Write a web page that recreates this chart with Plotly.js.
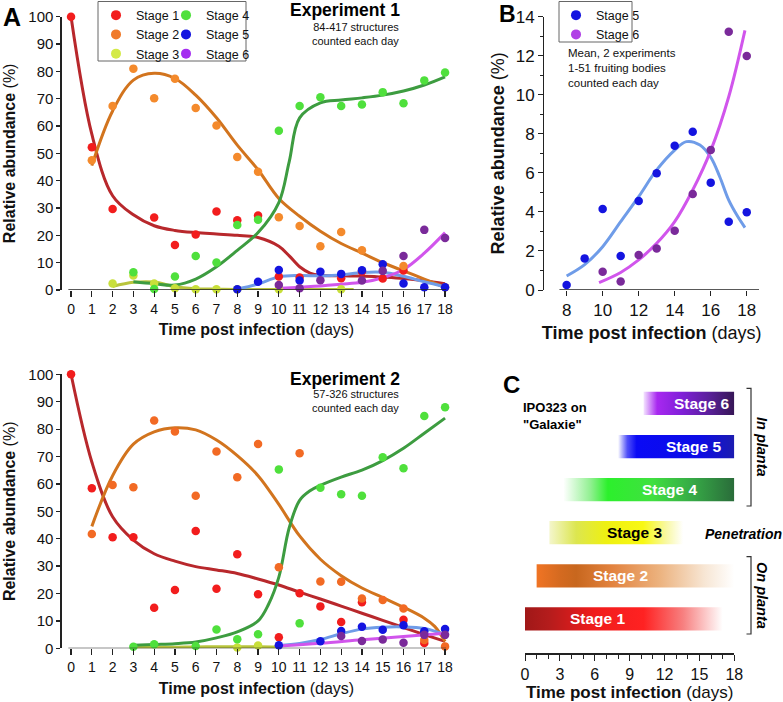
<!DOCTYPE html>
<html><head><meta charset="utf-8">
<script src="https://cdn.plot.ly/plotly-3.0.1.min.js"></script>
<style>html,body{margin:0;padding:0;background:#fff}#chart{width:783px;height:702px}</style>
</head><body><div id="chart"></div>
<script>
// ---------- DATA ----------
const days = [0,1,2,3,4,5,6,7,8,9,10,11,12,13,14,15,16,17,18];
const stageNames = ['Stage 1','Stage 2','Stage 3','Stage 4','Stage 5','Stage 6'];

// Experiment 1 observed values (%)
const e1S1 = [100,52.2,29.6,null,26.5,16.5,20.3,28.7,25.5,27.3,4.9,4.6,null,4.3,6.8,4.2,7.1,null,null];
const e1S2 = [null,47.5,67.3,81.0,70.2,77.3,66.6,60.2,48.7,43.3,26.6,23.4,16.0,21.2,14.5,null,8.8,null,1.0];
const e1S3 = [null,null,2.4,5.3,2.4,0.6,0.3,0.3,0.3,null,0.3,null,null,0.3,null,null,null,null,null];
const e1S4 = [null,null,null,6.5,0.4,4.9,12.4,10.1,23.8,25.7,58.3,67.3,70.5,67.3,67.9,72.4,68.3,76.7,79.6];
const e1S5 = [null,null,null,null,null,null,null,null,0.3,3.0,7.3,3.5,6.7,5.9,7.2,9.4,2.4,1.0,1.0];
const e1S6 = [null,null,null,null,null,null,null,null,null,null,1.8,0.6,3.6,null,3.5,7.0,12.4,22.0,19.0];

// Experiment 1 fitted curves
const f1S1x = [0,1,2,3,4,5,6,7,8,9,10,10.5,11,11.5,12,13,14,15,16,17,18];
const f1S1y = [100,57,34.5,27.5,23.5,21.8,21,20.5,20,19.2,16,12.5,8.5,6.2,5.4,5.2,5.1,4.7,4.2,3.4,2.3];
const f1S2x = [1,2,3,4,5,6,7,8,9,10,11,12,13,14,15,16,17,18];
const f1S2y = [45.5,65.5,76.8,79.3,77.4,71.3,63,53,44,33.5,27,21.5,17,13.5,10,7,4,1];
const f1S3x = [2,3,4,5,6,7,8,10,12,13.6];
const f1S3y = [1.3,2.8,2.9,1.2,0.5,0.3,0.2,0.2,0.2,0.2];
const f1S4x = [3,4,5,6,7,8,9,10,10.5,11,12,13,14,15,16,17,18];
const f1S4y = [3,2.3,1.8,4,8.5,14.5,21,32,47,63,68.5,69.5,70.3,71.3,72.8,75,78];
const f1S5x = [8,9,10,11,12,13,14,15,16,17,18];
const f1S5y = [0.3,2.2,4.8,5.3,5.2,5.5,6.4,6.5,5,3,1.2];
const f1S6x = [10,11,12,13,14,15,16,17,18];
const f1S6y = [0.6,1.0,1.5,2.1,2.8,4.5,7.5,13.5,21];

// Experiment 2 observed values (%)
const e2S1 = [100,58.4,40.5,40.5,14.8,21.3,42.8,21.7,34.3,19.7,4.0,20.1,15.3,9.6,16.8,null,10.4,1.9,null];
const e2S2 = [null,41.7,59.6,58.8,83.1,79.1,55.7,71.8,62.4,74.6,29.6,71.2,24.4,24.3,18.2,17.6,14.5,3.0,0.7];
const e2S3 = [null,null,null,null,null,null,null,null,0.3,1.0,null,null,null,null,null,null,null,null,null];
const e2S4 = [null,null,null,0.6,1.5,null,0.8,6.9,3.3,5.1,65.3,9.1,58.6,56.2,55.7,69.7,65.7,84.8,88.0];
const e2S5 = [null,null,null,null,null,null,null,null,null,null,1.1,null,2.6,6.3,7.9,6.8,8.4,6.2,7.0];
const e2S6 = [null,null,null,null,null,null,null,null,null,null,null,null,null,4.5,2.7,3.2,2.0,4.9,4.9];

// Experiment 2 fitted curves
const f2S1x = [0,1,2,3,4,5,6,7,8,9,10,11,12,13,14,15,16,17,18];
const f2S1y = [100,68,48,39.5,34.5,31.8,29.8,28.6,27.3,25.3,23.1,20.5,18,15.4,12.8,10.2,7.6,5,2.5];
const f2S2x = [1,2,3,4,5,6,7,8,9,10,11,12,13,14,15,16,17,17.5,18];
const f2S2y = [44.5,63,74.5,79,80.5,79.7,76,70.3,63,52.5,41,32.5,26.5,22,18.5,15,11,8,2.5];
const f2S3x = [3,4,5,6,7,8,9,10];
const f2S3y = [0.3,0.3,0.4,0.5,0.6,0.6,0.6,0.5];
const f2S4x = [3,4,5,6,7,8,9,9.5,10,10.5,11,11.5,12,13,14,15,16,17,18];
const f2S4y = [1.1,1.4,1.7,2.3,3.8,6,10,16,26,44,54,57.5,59.5,62.5,65,68.5,73,78.5,84];
const f2S5x = [10,11,12,13,14,15,16,17,18];
const f2S5y = [1,1.8,3.2,5.3,7,7.7,7.8,7.2,5];
const f2S6x = [10,12,14,16,18];
const f2S6y = [0.8,1.8,3.1,4.3,5.5];

// Panel B: mean of 2 experiments
const bDays5 = [8,9,10,11,12,13,14,15,16,17,18];
const bS5 = [0.26,1.62,4.15,1.74,4.56,5.98,7.39,8.11,5.5,3.5,3.98];
const bDays6 = [10,11,12,13,14,15,16,17,18];
const bS6 = [0.94,0.43,1.79,2.13,3.04,4.92,7.17,13.23,11.99];
const fbS5x = [8,9,10,11,12,13,14,14.65,15.4,16,16.5,17,17.5,17.9];
const fbS5y = [0.72,1.3,2.22,3.5,4.78,6.15,7.17,7.6,7.43,6.8,5.8,4.6,3.76,3.2];
const fbS6x = [9.8,11,12,13,14,15,16,17,17.9];
const fbS6y = [0.38,0.9,1.54,2.39,3.5,5.12,7.14,9.9,13.3];

// Panel C: stage time windows (days)
const cStart = [0,1,2.1,3.3,8,10.2];
const cEnd = [17,18,13.6,18,18,18];

// ---------- STYLE ----------
const FONT = 'Arial, "Liberation Sans", sans-serif';
const dotCol = ['#f21d1d','#f48a2c','#c8df3a','#4fe03c','#1414e0','#7a2a9a'];
const dotCol2 = ['#f21d1d','#f26a24','#c8df3a','#4fe03c','#1414e0','#7a2a9a'];
const legCol = ['#f21d1d','#f07a2a','#d4ea48','#4fe03c','#1414e0','#a52ef0'];
const curveCol = ['#b8282c','#d2741e','#b9c53c','#3d9c40','#6f9ce8','#d155ec'];
const MS = 8.5;

const traces = [];
function curve(x, y, col, xa, ya) {
  traces.push({x, y, xaxis: xa, yaxis: ya, mode: 'lines', type: 'scatter',
    line: {shape: 'spline', smoothing: 1, width: 3, color: col},
    showlegend: false, hoverinfo: 'skip', cliponaxis: false});
}
function dots(x, y, col, xa, ya) {
  traces.push({x, y, xaxis: xa, yaxis: ya, mode: 'markers', type: 'scatter',
    marker: {size: MS, color: col}, showlegend: false, cliponaxis: false});
}

curve(f1S1x, f1S1y, curveCol[0], 'x', 'y');
curve(f1S2x, f1S2y, curveCol[1], 'x', 'y');
curve(f1S3x, f1S3y, curveCol[2], 'x', 'y');
curve(f1S4x, f1S4y, curveCol[3], 'x', 'y');
curve(f1S5x, f1S5y, curveCol[4], 'x', 'y');
curve(f1S6x, f1S6y, curveCol[5], 'x', 'y');
[e1S1,e1S2,e1S3,e1S4,e1S5,e1S6].forEach((s,i)=>dots(days, s, dotCol[i], 'x', 'y'));

curve(f2S1x, f2S1y, curveCol[0], 'x2', 'y2');
curve(f2S2x, f2S2y, curveCol[1], 'x2', 'y2');
curve(f2S3x, f2S3y, curveCol[2], 'x2', 'y2');
curve(f2S4x, f2S4y, curveCol[3], 'x2', 'y2');
curve(f2S5x, f2S5y, curveCol[4], 'x2', 'y2');
curve(f2S6x, f2S6y, curveCol[5], 'x2', 'y2');
[e2S1,e2S2,e2S3,e2S4,e2S5,e2S6].forEach((s,i)=>dots(days, s, dotCol2[i], 'x2', 'y2'));

curve(fbS5x, fbS5y, curveCol[4], 'x3', 'y3');
curve(fbS6x, fbS6y, curveCol[5], 'x3', 'y3');
dots(bDays5, bS5, dotCol[4], 'x3', 'y3');
dots(bDays6, bS6, dotCol[5], 'x3', 'y3');

stageNames.forEach((nm,i)=>{
  traces.push({x:[null], y:[null], xaxis:'x', yaxis:'y', type:'scatter', mode:'markers', name:nm,
    marker:{size:10, color:legCol[i]}, legend: i<3 ? 'legend' : 'legend2', showlegend:true});
});
[4,5].forEach(i=>{
  traces.push({x:[null], y:[null], xaxis:'x3', yaxis:'y3', type:'scatter', mode:'markers', name:stageNames[i],
    marker:{size:10, color: i===4 ? '#1414e0' : '#b040e6'}, legend:'legend3', showlegend:true});
});

const grads = [
  [[0,'#a01818'],[0.12,'#b41c1c'],[0.35,'#f01c1c'],[0.6,'#ff2222'],[0.8,'#f78080'],[1,'#ffffff']],
  [[0,'#f07424'],[0.12,'#d46a20'],[0.2,'#c8671e'],[0.38,'#e2823e'],[0.62,'#ecb27e'],[0.85,'#f7e6d4'],[1,'#ffffff']],
  [[0,'#f4f6cc'],[0.2,'#dce650'],[0.42,'#eef012'],[0.7,'#f8f814'],[0.88,'#f8f8a8'],[1,'#ffffff']],
  [[0,'#ffffff'],[0.16,'#90f090'],[0.26,'#2cf02c'],[0.52,'#40e040'],[0.76,'#36a846'],[1,'#2a6c3a']],
  [[0,'#ffffff'],[0.08,'#5050f8'],[0.16,'#0a0af5'],[0.7,'#0c0ce6'],[1,'#1c1cb0']],
  [[0,'#f4e4ff'],[0.15,'#a828f0'],[0.42,'#8020d8'],[0.72,'#5a209a'],[1,'#361656']]
];
const half = 0.27;
stageNames.forEach((nm,i)=>{
  const k = i+1, s = cStart[i], e = cEnd[i];
  traces.push({x:[s,e,e,s,s], y:[k-half,k-half,k+half,k+half,k-half], xaxis:'x4', yaxis:'y4',
    type:'scatter', mode:'lines', fill:'toself', line:{width:0, color:'rgba(0,0,0,0)'},
    fillgradient:{type:'horizontal', colorscale:grads[i], start:s, stop:e},
    showlegend:false, hoverinfo:'skip'});
});

// ---------- LAYOUT ----------
const W = 783, H = 702;
const px = v => v / W, py = v => 1 - v / H;
const tickF = s => ({family: FONT, size: s, color: '#111'});
const ttl = (t, s) => ({text: t, font: {family: FONT, size: s, color: '#111'}});

const axA_x = (anchor, st) => ({domain:[px(61.7), px(451.3)], range:[-0.45,18.3], anchor,
  tickmode:'linear', tick0:0, dtick:1, ticks:'outside', ticklen:6, tickwidth:1.2, tickcolor:'#222',
  showline:false, zeroline:false, showgrid:false, tickfont:tickF(14),
  title: Object.assign(ttl('<b>Time post infection</b> (days)', 16), {standoff: st})});
const axA_y = (dom, anchor) => ({domain: dom, range:[0,100], anchor, tickmode:'linear', tick0:0, dtick:10,
  ticks:'outside', ticklen:4, tickwidth:1.2, tickcolor:'#222', showline:true, linewidth:1.3, linecolor:'#222',
  zeroline:false, showgrid:false, tickfont:tickF(15),
  title: Object.assign(ttl('<b>Relative abundance</b> (%)', 16), {standoff: 8})});

const legFont = {family:FONT, size:12.5, color:'#111'};
const layout = {
  width: W, height: H, margin:{l:0,r:0,t:0,b:0}, paper_bgcolor:'#fff', plot_bgcolor:'rgba(0,0,0,0)',
  font:{family: FONT, color:'#111'}, hovermode:false,
  xaxis: axA_x('y', 8),
  yaxis: axA_y([py(290), py(16.7)], 'x'),
  xaxis2: axA_x('y2', 8),
  yaxis2: axA_y([py(648.3), py(374.3)], 'x2'),
  xaxis3: {domain:[px(544.3), px(759)], range:[6.76,18.68], anchor:'y3', tickmode:'linear', tick0:0, dtick:2,
    ticks:'outside', ticklen:5, tickcolor:'#222', showline:false, zeroline:false, showgrid:false, tickfont:tickF(17),
    title: Object.assign(ttl('<b>Time post infection</b> (days)', 18), {standoff: 6})},
  yaxis3: {domain:[py(290), py(16.7)], range:[0,14], anchor:'x3', tickmode:'linear', tick0:0, dtick:2,
    ticks:'outside', ticklen:5, tickcolor:'#222', minor:{dtick:1, ticks:'outside', ticklen:3, tickcolor:'#222'},
    showline:true, linewidth:1.3, linecolor:'#222', zeroline:false, showgrid:false, tickfont:tickF(17),
    title: Object.assign(ttl('<b>Relative abundance</b> (%)', 18), {standoff: 6})},
  xaxis4: {domain:[px(525), px(734.3)], range:[0,18], anchor:'y4', tickmode:'linear', tick0:0, dtick:3,
    ticks:'outside', ticklen:6, tickcolor:'#222', minor:{dtick:1, ticks:'outside', ticklen:4, tickcolor:'#222'},
    showline:true, linewidth:1.3, linecolor:'#222', zeroline:false, showgrid:false, tickfont:tickF(16),
    title: Object.assign(ttl('<b>Time post infection</b> (days)', 17), {standoff: 4})},
  yaxis4: {domain:[py(653.3), py(381.9)], range:[0.2,6.5], anchor:'x4', visible:false},
  legend: {x: px(96), y: py(0.5), xanchor:'left', yanchor:'top', font:legFont, bgcolor:'rgba(0,0,0,0)', tracegroupgap:0},
  legend2: {x: px(166), y: py(0.5), xanchor:'left', yanchor:'top', font:legFont, bgcolor:'rgba(0,0,0,0)', tracegroupgap:0},
  legend3: {x: px(556), y: py(0.5), xanchor:'left', yanchor:'top', font:legFont, bgcolor:'rgba(0,0,0,0)', tracegroupgap:0},
  shapes: [
    {type:'line', xref:'x', yref:'y', x0:-0.13, x1:18.05, y0:0, y1:0, line:{color:'#222', width:1.3}},
    {type:'line', xref:'x2', yref:'y2', x0:-0.13, x1:18.05, y0:0, y1:0, line:{color:'#222', width:1.3}},
    {type:'line', xref:'x3', yref:'y3', x0:7.6, x1:18.68, y0:0, y1:0, line:{color:'#222', width:1.3}},
    {type:'rect', xref:'paper', yref:'paper', x0:px(98), x1:px(246), y0:py(61), y1:py(1.5), line:{color:'#666', width:1}},
    {type:'rect', xref:'paper', yref:'paper', x0:px(559), x1:px(632), y0:py(42), y1:py(1.5), line:{color:'#666', width:1}},
    {type:'path', xref:'paper', yref:'paper', path:`M ${px(746.5)} ${py(388.3)} L ${px(751)} ${py(388.3)} L ${px(751)} ${py(506)} L ${px(746.5)} ${py(506)}`, line:{color:'#333', width:1.2}},
    {type:'path', xref:'paper', yref:'paper', path:`M ${px(746.5)} ${py(556.7)} L ${px(751)} ${py(556.7)} L ${px(751)} ${py(634)} L ${px(746.5)} ${py(634)}`, line:{color:'#333', width:1.2}}
  ],
  annotations: []
};

const A = layout.annotations;
function ann(text, x, y, o) { A.push(Object.assign({text, x, y, xref:'paper', yref:'paper', showarrow:false,
  xanchor:'center', yanchor:'middle', font:{family:FONT, size:12, color:'#111'}}, o||{})); }
ann('<b>A</b>', px(12), py(17), {font:{family:FONT, size:25, color:'#000'}});
ann('<b>B</b>', px(508), py(14), {font:{family:FONT, size:23, color:'#000'}});
ann('<b>C</b>', px(511), py(384), {font:{family:FONT, size:24, color:'#000'}});
ann('<b>Experiment 1</b>', px(401.5), py(10.5), {xanchor:'right', font:{family:FONT, size:17.5, color:'#000'}});
ann('84-417 structures<br>counted each day', px(400.5), py(34), {xanchor:'right', align:'right', font:{family:FONT, size:11, color:'#111'}});
ann('<b>Experiment 2</b>', px(401.5), py(378.5), {xanchor:'right', font:{family:FONT, size:17.5, color:'#000'}});
ann('57-326 structures<br>counted each day', px(400.5), py(401), {xanchor:'right', align:'right', font:{family:FONT, size:11, color:'#111'}});
ann('Mean, 2 experiments<br>1-51 fruiting bodies<br>counted each day', px(566), py(68), {xanchor:'left', align:'left', font:{family:FONT, size:11.5, color:'#111'}});
ann('<b>IPO323 on<br>"Galaxie"</b>', px(521), py(416), {xanchor:'left', align:'left', font:{family:FONT, size:13, color:'#000'}});
ann('<b><i>In planta</i></b>', px(762), py(447), {textangle:90, font:{family:FONT, size:14.5, color:'#000'}});
ann('<b><i>On planta</i></b>', px(762), py(595), {textangle:90, font:{family:FONT, size:14.5, color:'#000'}});
ann('<b><i>Penetration</i></b>', px(743), py(534), {font:{family:FONT, size:14, color:'#000'}});

const cLabelX = [6.3, 8.2, 9.5, 12.5, 14.5, 15.2];
stageNames.forEach((nm,i)=>{
  A.push({text:'<b>'+nm+'</b>', x:cLabelX[i], y:i+1, xref:'x4', yref:'y4', showarrow:false,
    xanchor:'center', yanchor:'middle', font:{family:FONT, size:15.5, color: i===2 ? '#000' : '#fff'}});
});

Plotly.newPlot('chart', traces, layout, {displayModeBar:false, staticPlot:true});
</script></body></html>
